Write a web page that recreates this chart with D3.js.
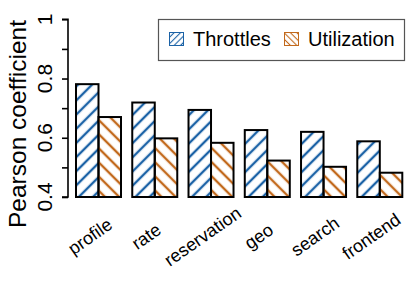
<!DOCTYPE html>
<html><head><meta charset="utf-8">
<script src="https://cdn.jsdelivr.net/npm/d3@7"></script>
<style>body{margin:0;background:#fff}svg{display:block}text{font-family:"Liberation Sans",Arial,sans-serif}</style>
</head><body>
<svg id="c" width="415" height="291"></svg>
<script>
const categories = ["profile","rate","reservation","geo","search","frontend"];
const seriesNames = ["Throttles","Utilization"];
const throttles = [0.781,0.719,0.694,0.626,0.620,0.588];
const utilization = [0.670,0.598,0.583,0.523,0.502,0.482];
const yTicks = [0.4,0.5,0.6,0.7,0.8,0.9,1.0];
const yTickLabels = [0.4,0.6,0.8,1];
const colors = ["#1b62a6","#c2691c"];

const svg = d3.select("#c");
const defs = svg.append("defs");
function hatch(id, color, angle, spacing, sw){
  const p = defs.append("pattern").attr("id", id).attr("patternUnits","userSpaceOnUse")
    .attr("width", spacing).attr("height", spacing).attr("patternTransform", `rotate(${angle})`);
  p.append("line").attr("x1",spacing/2).attr("y1",-1).attr("x2",spacing/2).attr("y2",spacing+1)
    .attr("stroke", color).attr("stroke-width", sw);
}
hatch("h0", colors[0], 45, 10, 2.4);
hatch("h1", colors[1], -45, 10, 2.4);
hatch("l0", colors[0], 45, 4.5, 1.1);
hatch("l1", colors[1], -45, 4.5, 1.1);

const y = d3.scaleLinear().domain([0.4,1]).range([197,19.3]);
const x0 = d3.scaleBand().domain(categories).range([76,402.3]).paddingInner(0.2).paddingOuter(0);
const x1 = d3.scaleBand().domain(seriesNames).range([0,x0.bandwidth()]);
const values = [throttles, utilization];

const g = svg.append("g");
seriesNames.forEach((s, si) => {
  g.selectAll(null).data(categories).enter().append("rect")
    .attr("x", c => x0(c) + x1(s))
    .attr("y", (c,i) => y(values[si][i]))
    .attr("width", x1.bandwidth())
    .attr("height", (c,i) => y(0.4) - y(values[si][i]))
    .attr("fill", `url(#h${si})`)
    .attr("stroke", "#000").attr("stroke-width", 2);
});

// y axis
const ax = svg.append("g").attr("transform","translate(68,0)")
  .call(d3.axisLeft(y).tickValues(yTicks).tickSize(6).tickFormat(""));
ax.select(".domain").attr("stroke","#000").attr("stroke-width",1.6).attr("d",`M-6,${y(0.4)}H0V${y(1)}H-6`);
ax.selectAll(".tick line").attr("stroke","#000").attr("stroke-width",1.6);
svg.selectAll(null).data(yTickLabels).enter().append("text")
  .attr("transform", d => `translate(52,${y(d)}) rotate(-90)`)
  .attr("text-anchor","middle").attr("font-size",21).attr("fill","#000")
  .text(d => d3.format("")(d));

svg.append("text").attr("transform","translate(26,124) rotate(-90)")
  .attr("text-anchor","middle").attr("font-size",24.5).attr("fill","#000")
  .text("Pearson coefficient");

// x labels
svg.selectAll(null).data(categories).enter().append("text")
  .attr("transform", c => `translate(${x0(c)+x0.bandwidth()/2-8},${237}) rotate(-35)`)
  .attr("text-anchor","middle").attr("dy","0.3em").attr("font-size",18).attr("fill","#000")
  .text(c => c);

// legend
const lg = svg.append("g");
lg.append("rect").attr("x",158.5).attr("y",19.5).attr("width",246).attr("height",41)
  .attr("fill","#fff").attr("stroke","#555").attr("stroke-width",1.2);
const lx = [169, 284];
seriesNames.forEach((s, si) => {
  lg.append("rect").attr("x",lx[si]+0.5).attr("y",32.5).attr("width",14).attr("height",13)
    .attr("fill",`url(#l${si})`).attr("stroke",colors[si]).attr("stroke-width",1);
  lg.append("text").attr("x",lx[si]+24).attr("y",46).attr("font-size",20).attr("fill","#000").text(s);
});
</script>
</body></html>
